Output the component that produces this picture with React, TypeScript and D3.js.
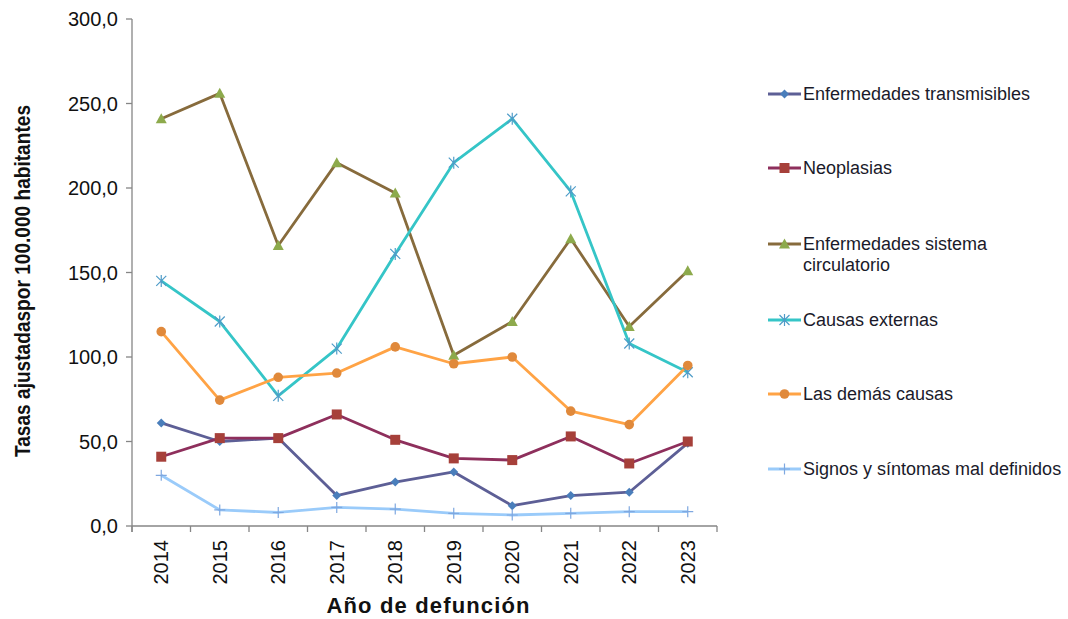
import React, { useEffect, useRef } from 'react';
import * as d3 from 'd3';

const years = ['2014', '2015', '2016', '2017', '2018', '2019', '2020', '2021', '2022', '2023'];
const yTicks = [0, 50, 100, 150, 200, 250, 300];

const transmisibles = [61, 50, 52, 18, 26, 32, 12, 18, 20, 49];
const neoplasias = [41, 52, 52, 66, 51, 40, 39, 53, 37, 50];
const circulatorio = [241, 256, 166, 215, 197, 101, 121, 170, 118, 151];
const externas = [145, 121, 77, 105, 161, 215, 241, 198, 108, 91];
const demas = [115, 74.5, 88, 90.5, 106, 96, 100, 68, 60, 95];
const signos = [30, 9.5, 8, 11, 10, 7.5, 6.5, 7.5, 8.5, 8.5];

type Marker = 'diamond' | 'square' | 'triangle' | 'star' | 'circle' | 'plus';

const seriesList: { name: string[]; values: number[]; line: string; mark: string; marker: Marker }[] = [
  { name: ['Enfermedades transmisibles'], values: transmisibles, line: '#5D5F96', mark: '#4A7EBB', marker: 'diamond' },
  { name: ['Neoplasias'], values: neoplasias, line: '#8E2F5C', mark: '#A6403A', marker: 'square' },
  { name: ['Enfermedades sistema', 'circulatorio'], values: circulatorio, line: '#876B3C', mark: '#8DAA4C', marker: 'triangle' },
  { name: ['Causas externas'], values: externas, line: '#35C5C7', mark: '#4F9CC8', marker: 'star' },
  { name: ['Las demás causas'], values: demas, line: '#FFA345', mark: '#E0893B', marker: 'circle' },
  { name: ['Signos y síntomas mal definidos'], values: signos, line: '#9ACBFA', mark: '#7FA8E0', marker: 'plus' },
];

const legendY = [94, 168, 244, 320, 394, 469];

const drawMarker = (g: d3.Selection<SVGGElement, unknown, null, undefined>, kind: Marker, x: number, y: number, color: string) => {
  if (kind === 'diamond') {
    g.append('path').attr('d', `M${x},${y - 4.5}L${x + 4.5},${y}L${x},${y + 4.5}L${x - 4.5},${y}Z`).attr('fill', color);
  } else if (kind === 'square') {
    g.append('rect').attr('x', x - 5).attr('y', y - 5).attr('width', 10).attr('height', 10).attr('fill', color);
  } else if (kind === 'triangle') {
    g.append('path').attr('d', `M${x},${y - 5.5}L${x + 5.5},${y + 4.5}L${x - 5.5},${y + 4.5}Z`).attr('fill', color);
  } else if (kind === 'circle') {
    g.append('circle').attr('cx', x).attr('cy', y).attr('r', 4.8).attr('fill', color);
  } else if (kind === 'star') {
    const s = 5;
    g.append('path')
      .attr('d', `M${x - s},${y - s}L${x + s},${y + s}M${x - s},${y + s}L${x + s},${y - s}M${x},${y - s - 1}L${x},${y + s + 1}`)
      .attr('stroke', color).attr('stroke-width', 1.2).attr('fill', 'none');
  } else {
    const s = 5.5;
    g.append('path')
      .attr('d', `M${x - s},${y}L${x + s},${y}M${x},${y - s}L${x},${y + s}`)
      .attr('stroke', color).attr('stroke-width', 1.2).attr('fill', 'none');
  }
};

export default function App() {
  const svgRef = useRef<SVGSVGElement>(null);

  useEffect(() => {
    if (!svgRef.current) return;
    const svg = d3.select(svgRef.current);
    svg.selectAll('*').remove();

    const left = 132;
    const right = 717;
    const top = 19;
    const bottom = 526;

    const x = d3.scaleBand<string>().domain(years).range([left, right]);
    const y = d3.scaleLinear().domain([0, 300]).range([bottom, top]);
    const axisColor = '#868686';
    const fmt = (v: number) => d3.format('.1f')(v).replace('.', ',');
    const font = 'Liberation Sans, Arial, sans-serif';

    // y axis
    svg.append('line').attr('x1', left).attr('x2', left).attr('y1', top).attr('y2', bottom + 6)
      .attr('stroke', axisColor).attr('stroke-width', 1.3);
    yTicks.forEach(t => {
      svg.append('line').attr('x1', left - 6).attr('x2', left).attr('y1', y(t)).attr('y2', y(t))
        .attr('stroke', axisColor).attr('stroke-width', 1.3);
      svg.append('text').attr('x', 118).attr('y', y(t)).attr('dy', '0.35em')
        .attr('text-anchor', 'end').attr('font-size', 20).attr('fill', '#111')
        .attr('font-family', font).text(fmt(t));
    });

    // x axis
    svg.append('line').attr('x1', left).attr('x2', right).attr('y1', bottom).attr('y2', bottom)
      .attr('stroke', axisColor).attr('stroke-width', 1.3);
    [...years.map(d => x(d)!), right].forEach(px => {
      svg.append('line').attr('x1', px).attr('x2', px).attr('y1', bottom).attr('y2', bottom + 6)
        .attr('stroke', axisColor).attr('stroke-width', 1.3);
    });
    years.forEach(yr => {
      const cx = x(yr)! + x.bandwidth() / 2;
      svg.append('text').attr('transform', `translate(${cx},${540}) rotate(-90)`)
        .attr('text-anchor', 'end').attr('dy', '0.35em').attr('font-size', 20).attr('fill', '#111')
        .attr('font-family', font).text(yr);
    });

    // titles
    svg.append('text').attr('transform', `translate(30,281) rotate(-90)`)
      .attr('text-anchor', 'middle').attr('font-size', 22).attr('font-weight', 'bold')
      .attr('textLength', 352).attr('lengthAdjust', 'spacingAndGlyphs')
      .attr('fill', '#111').attr('font-family', font)
      .text('Tasas ajustadaspor 100.000 habitantes');
    svg.append('text').attr('x', 428).attr('y', 613)
      .attr('text-anchor', 'middle').attr('font-size', 22).attr('font-weight', 'bold')
      .attr('textLength', 203).attr('lengthAdjust', 'spacing')
      .attr('fill', '#111').attr('font-family', font)
      .text('Año de defunción');

    // series
    const line = d3.line<number>()
      .x((_, i) => x(years[i])! + x.bandwidth() / 2)
      .y(d => y(d));

    seriesList.forEach(s => {
      svg.append('path').attr('d', line(s.values)!).attr('fill', 'none')
        .attr('stroke', s.line).attr('stroke-width', 2.8).attr('stroke-linejoin', 'round');
    });
    seriesList.forEach(s => {
      const g = svg.append('g');
      s.values.forEach((v, i) => drawMarker(g, s.marker, x(years[i])! + x.bandwidth() / 2, y(v), s.mark));
    });

    // legend
    seriesList.forEach((s, i) => {
      const ly = legendY[i];
      const g = svg.append('g');
      g.append('line').attr('x1', 768).attr('x2', 801).attr('y1', ly).attr('y2', ly)
        .attr('stroke', s.line).attr('stroke-width', 2.8);
      drawMarker(g, s.marker, 784.5, ly, s.mark);
      s.name.forEach((ln, j) => {
        g.append('text').attr('x', 803).attr('y', ly + j * 21).attr('dy', '0.35em')
          .attr('font-size', 18).attr('fill', '#1a1a2a')
          .attr('font-family', font).text(ln);
      });
    });
  }, []);

  return (
    <div style={{ position: 'absolute', left: 0, top: 0 }}>
      <svg ref={svgRef} width={1068} height={619} style={{ display: 'block', background: '#fff' }} />
    </div>
  );
}
